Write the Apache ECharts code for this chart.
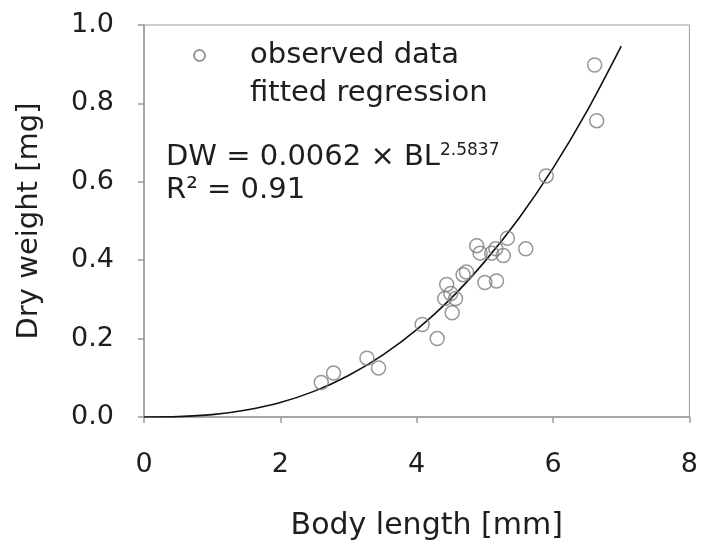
<!DOCTYPE html>
<html>
<head>
<meta charset="utf-8">
<title>Dry weight vs body length</title>
<script src="https://cdn.jsdelivr.net/npm/echarts@6/dist/echarts.min.js"></script>
<style>
  html, body { margin: 0; padding: 0; background: #ffffff; }
  #chart { width: 701px; height: 546px; }
</style>
</head>
<body>
<div id="chart"></div>
<script>
const bodyLength = [2.60, 2.78, 3.27, 3.44, 4.08, 4.30, 4.44, 4.41, 4.57, 4.52, 4.50, 4.68, 4.73,
  4.88, 4.93, 5.00, 5.17, 5.10, 5.16, 5.27, 5.33, 5.60, 5.90, 6.61, 6.64];
const dryWeight = [0.088, 0.112, 0.150, 0.125, 0.236, 0.200, 0.338, 0.302, 0.302, 0.266, 0.315, 0.363, 0.370,
  0.437, 0.418, 0.343, 0.347, 0.418, 0.429, 0.412, 0.456, 0.429, 0.615, 0.898, 0.756];

// fitted regression curve, sampled along the drawn line
const fitLength = [0, 0.5, 1, 1.5, 2, 2.5, 3, 3.5, 4, 4.5, 5, 5.5, 6, 6.5, 7];
const fitWeight = [0, 0.001, 0.006, 0.018, 0.037, 0.066, 0.106, 0.158, 0.223, 0.302, 0.397, 0.507, 0.635, 0.781, 0.946];

const xTicks = [0, 2, 4, 6, 8];
const yTicks = [0, 0.2, 0.4, 0.6, 0.8, 1.0];

const font = "DejaVu Sans";
const textColor = "#1e1e1e";
const axisColor = "#9a9a9a";

const chart = echarts.init(document.getElementById("chart"));

const option = {
  animation: false,
  backgroundColor: "#ffffff",
  grid: {
    left: 144,
    right: 10,
    top: 25,
    bottom: 127,
    show: true,
    borderColor: axisColor,
    borderWidth: 1,
  },
  legend: {
    orient: "vertical",
    left: 188,
    top: 36,
    itemWidth: 11,
    itemHeight: 11,
    itemGap: 9,
    textStyle: { fontFamily: font, fontSize: 29, color: textColor, padding: [0, 0, 0, 40] },
    data: [
      { name: "observed data" },
      { name: "fitted regression", icon: "none" },
    ],
  },
  xAxis: {
    type: "value",
    min: xTicks[0],
    max: xTicks[xTicks.length - 1],
    interval: 2,
    name: "Body length [mm]",
    nameLocation: "middle",
    nameGap: 94,
    nameTextStyle: { fontFamily: font, fontSize: 30, color: textColor, padding: [0, 0, 0, 20] },
    axisLine: { onZero: false, lineStyle: { color: axisColor, width: 1.5 } },
    axisTick: { show: true, inside: false, length: 6, lineStyle: { color: axisColor, width: 1.5 } },
    axisLabel: { margin: 34, fontFamily: font, fontSize: 27, color: textColor },
    splitLine: { show: false },
  },
  yAxis: {
    type: "value",
    min: yTicks[0],
    max: yTicks[yTicks.length - 1],
    interval: 0.2,
    name: "Dry weight [mg]",
    nameLocation: "middle",
    nameGap: 100,
    nameTextStyle: { fontFamily: font, fontSize: 29, color: textColor },
    axisLine: { onZero: false, lineStyle: { color: axisColor, width: 1.5 } },
    axisTick: { show: true, inside: false, length: 6, lineStyle: { color: axisColor, width: 1.5 } },
    axisLabel: {
      margin: 30,
      fontFamily: font,
      fontSize: 27,
      color: textColor,
      formatter: function (v) {
        return v.toFixed(1);
      },
    },
    splitLine: { show: false },
  },
  graphic: [
    {
      type: "text",
      x: 166,
      y: 157,
      style: {
        text: "{a|DW = 0.0062 × BL}{s|2.5837}",
        verticalAlign: "middle",
        rich: {
          a: { fontFamily: font, fontSize: 29, fill: textColor, color: textColor },
          s: { fontFamily: font, fontSize: 17, fill: textColor, color: textColor, verticalAlign: "top" },
        },
      },
    },
    {
      type: "text",
      x: 166,
      y: 190,
      style: {
        text: "R² = 0.91",
        font: "29px " + font,
        fill: textColor,
        verticalAlign: "middle",
      },
    },
  ],
  series: [
    {
      name: "fitted regression",
      type: "line",
      data: fitLength.map((x, i) => [x, fitWeight[i]]),
      smooth: 0.3,
      showSymbol: false,
      lineStyle: { color: "#111111", width: 1.6 },
      itemStyle: { color: "#111111" },
      z: 2,
    },
    {
      name: "observed data",
      type: "scatter",
      data: bodyLength.map((x, i) => [x, dryWeight[i]]),
      symbol: "circle",
      symbolSize: 14,
      itemStyle: { color: "rgba(255,255,255,0)", borderColor: "#7d7d7d", borderWidth: 1.5 },
      z: 3,
    },
  ],
};

chart.setOption(option);
</script>
</body>
</html>
